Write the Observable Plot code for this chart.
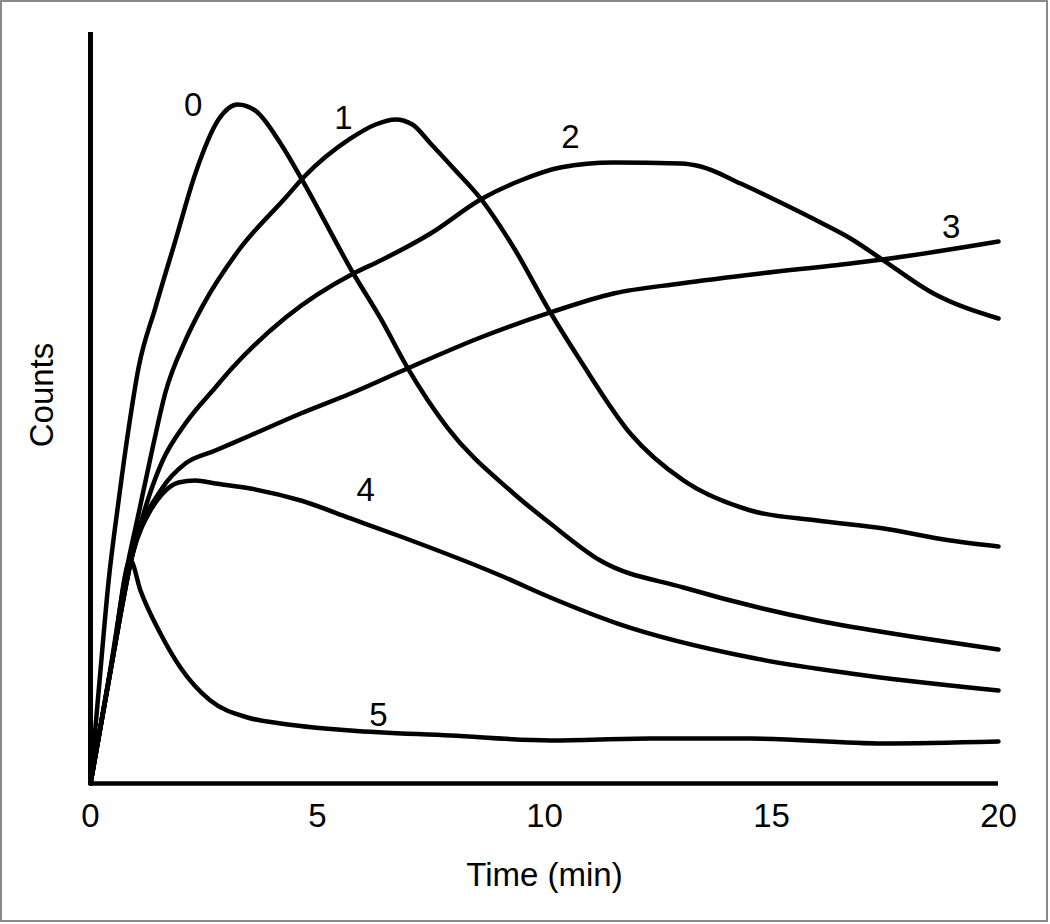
<!DOCTYPE html>
<html>
<head>
<meta charset="utf-8">
<script src="https://cdn.jsdelivr.net/npm/d3@7"></script>
<script src="https://cdn.jsdelivr.net/npm/@observablehq/plot@0.6"></script>
<style>
  body { margin: 0; background: #fff; }
  #frame { position: absolute; left: 0; top: 0; width: 1048px; height: 922px;
           border: 2px solid #8a8a8a; box-sizing: border-box; pointer-events: none; }
</style>
</head>
<body>
<div id="chart"></div>
<div id="frame"></div>
<script>
// Time (min) and Counts (arbitrary units, 0–100 = full axis height) for each curve
const time0   = [0, 0.20, 0.40, 0.62, 0.84, 1.06, 1.43, 1.87, 2.31, 2.82, 3.24, 3.63, 4.19, 4.67, 5.79, 6.39, 6.98, 7.86, 9.32, 10.13, 11.23, 13.06, 16.01, 18.22, 20];
const counts0 = [0, 13.72, 27.03, 37.68, 47.27, 55.40, 63.38, 72.30, 81.23, 88.40, 90.41, 89.61, 85.20, 80.29, 67.91, 61.92, 55.39, 47.40, 38.62, 34.62, 29.69, 26.10, 21.70, 19.44, 17.84];

const time1   = [0, 0.44, 0.77, 1.06, 1.37, 1.65, 2.09, 2.47, 3.26, 4.30, 4.69, 5.73, 6.28, 6.72, 7.09, 7.49, 8.04, 8.59, 9.32, 10.13, 10.79, 11.89, 13.06, 14.54, 16.01, 17.47, 18.94, 20];
const counts1 = [0, 15.31, 27.70, 35.95, 44.74, 52.06, 59.00, 63.60, 70.97, 78.03, 80.69, 85.89, 87.75, 88.42, 87.75, 85.22, 81.62, 77.90, 71.37, 62.72, 56.32, 46.60, 40.35, 36.35, 35.02, 33.95, 32.36, 31.56];

const time2   = [0, 0.48, 0.93, 1.28, 1.59, 2.09, 2.75, 3.13, 4.30, 5.79, 6.39, 7.49, 8.63, 9.47, 10.35, 11.52, 13.00, 13.44, 14.32, 15.20, 16.08, 16.74, 17.44, 18.57, 20];
const counts2 = [0, 16.38, 30.63, 38.08, 43.01, 47.94, 52.73, 55.39, 62.05, 67.91, 69.64, 73.24, 77.90, 80.29, 82.02, 82.69, 82.56, 82.16, 79.89, 77.36, 74.70, 72.57, 69.77, 65.25, 61.92];

const time3   = [0, 0.48, 0.93, 1.59, 2.09, 2.75, 3.52, 4.63, 5.73, 6.98, 8.59, 10.13, 11.52, 13.00, 14.76, 16.74, 17.44, 20];
const counts3 = [0, 16.38, 30.63, 39.41, 42.61, 44.34, 46.34, 49.27, 51.93, 55.26, 59.39, 62.72, 65.25, 66.58, 67.91, 69.24, 69.77, 72.17];

const time4   = [0, 0.48, 0.93, 1.32, 1.59, 1.94, 2.31, 2.75, 3.52, 4.63, 5.73, 6.83, 9.03, 10.13, 11.61, 14.54, 16.74, 20];
const counts4 = [0, 16.38, 30.63, 36.35, 38.62, 40.08, 40.35, 39.95, 39.28, 37.68, 35.29, 32.89, 27.70, 24.77, 21.30, 16.78, 14.65, 12.38];

const time5   = [0, 0.48, 0.88, 1.10, 1.54, 1.98, 2.64, 3.46, 4.19, 5.73, 7.93, 10.13, 12.33, 14.54, 17.47, 20];
const counts5 = [0, 16.38, 29.69, 25.70, 19.97, 15.45, 11.05, 8.79, 7.99, 7.06, 6.39, 5.73, 5.99, 5.99, 5.33, 5.59];

const curveNames  = ["0", "1", "2", "3", "4", "5"];
const labelTime   = [2.26, 5.57, 10.57, 18.96, 6.06, 6.34];
const labelCounts = [90.28, 88.55, 86.02, 74.03, 39.01, 9.05];

const xTicks = [0, 5, 10, 15, 20];

const seriesT = [time0, time1, time2, time3, time4, time5];
const seriesC = [counts0, counts1, counts2, counts3, counts4, counts5];
const rows = curveNames.flatMap((name, k) =>
  seriesT[k].map((t, i) => ({curve: name, t, c: seriesC[k][i]})));

const font = "'Liberation Sans', Arial, Helvetica, sans-serif";

const chart = Plot.plot({
  width: 1050,
  height: 924,
  marginLeft: 90,
  marginRight: 52,
  marginTop: 32,
  marginBottom: 141,
  x: {domain: [0, 20]},
  y: {domain: [0, 100], axis: null},
  style: {fontFamily: font, fontSize: "33px", color: "#000", background: "#fff", overflow: "visible"},
  marks: [
    Plot.lineY(rows, {x: "t", y: "c", z: "curve", curve: "monotone-x", stroke: "#000", strokeWidth: 4.5}),
    Plot.ruleX([0], {stroke: "#000", strokeWidth: 5}),
    Plot.ruleY([0], {stroke: "#000", strokeWidth: 4.5}),
    Plot.axisX({ticks: xTicks, tickSize: 0, tickPadding: 20, fontSize: 33, label: null}),
    Plot.text(curveNames, {x: (d, i) => labelTime[i], y: (d, i) => labelCounts[i], text: d => d,
      fontSize: 33, fill: "#000", lineAnchor: "middle"}),
    Plot.text(["Time (min)"], {frameAnchor: "bottom", dy: 92, text: d => d, fontSize: 33,
      fill: "#000", textAnchor: "middle", lineAnchor: "middle"}),
    Plot.text(["Counts"], {frameAnchor: "left", dx: -48, dy: -13, rotate: -90, text: d => d, fontSize: 33,
      fill: "#000", textAnchor: "middle", lineAnchor: "middle"})
  ]
});
document.getElementById("chart").append(chart);
</script>
</body>
</html>
